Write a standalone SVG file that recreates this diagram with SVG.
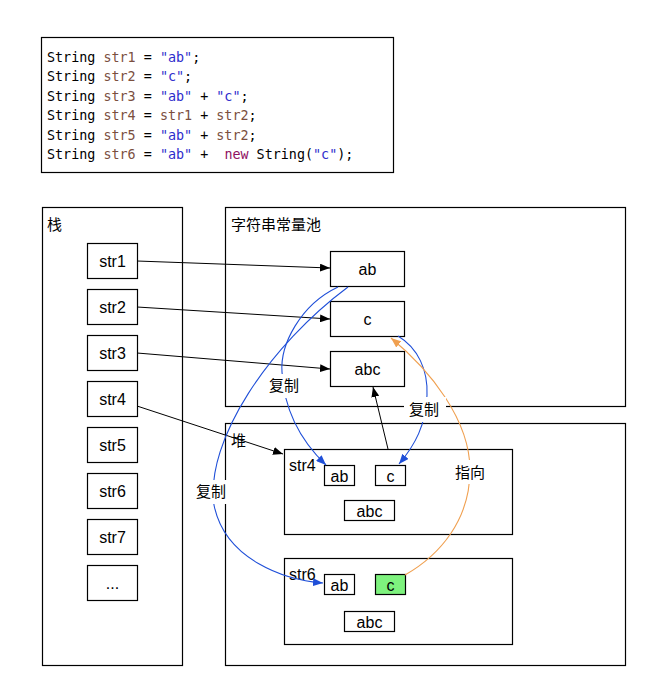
<svg xmlns="http://www.w3.org/2000/svg" width="657" height="692" viewBox="0 0 657 692">
<style>
.box{fill:#fff;stroke:#000;stroke-width:1.2}
.t{font-family:"Liberation Sans","Noto Sans CJK SC",sans-serif;font-size:16px;fill:#000}
.h{font-family:"Noto Sans CJK SC","Liberation Sans",sans-serif;font-size:15px;fill:#000}
.c{text-anchor:middle}
.code{font-family:"DejaVu Sans Mono","Liberation Mono",monospace;font-size:13.4px;fill:#000}
.v{fill:#7b4f3f}
.s{fill:#2d2dcc}
.k{fill:#8f1263}
.blk{fill:none;stroke:#000;stroke-width:1}
.blu{fill:none;stroke:#1f4fd8;stroke-width:1.1}
.org{fill:none;stroke:#f0a050;stroke-width:1.1}
.lbl{font-family:"Noto Sans CJK SC","Liberation Sans",sans-serif;font-size:15px;fill:#000;text-anchor:middle}
</style>
<defs>
<marker id="ak" viewBox="0 0 10 8" refX="10" refY="4" markerWidth="10" markerHeight="8" markerUnits="userSpaceOnUse" orient="auto"><path d="M0,0 L10,4 L0,8 Z" fill="#000"/></marker>
<marker id="ab" viewBox="0 0 10 8" refX="10" refY="4" markerWidth="10" markerHeight="8" markerUnits="userSpaceOnUse" orient="auto"><path d="M0,0 L10,4 L0,8 Z" fill="#1f4fd8"/></marker>
<marker id="ao" viewBox="0 0 10 8" refX="10" refY="4" markerWidth="10" markerHeight="8" markerUnits="userSpaceOnUse" orient="auto"><path d="M0,0 L10,4 L0,8 Z" fill="#f0a050"/></marker>
</defs>
<rect width="657" height="692" fill="#fff"/>

<g id="code">
<rect class="box" x="41.5" y="37.5" width="352" height="135"/>
<text class="code" x="47" y="62" xml:space="preserve">String <tspan class="v">str1</tspan> = <tspan class="s">"ab"</tspan>;</text>
<text class="code" x="47" y="81.4" xml:space="preserve">String <tspan class="v">str2</tspan> = <tspan class="s">"c"</tspan>;</text>
<text class="code" x="47" y="100.8" xml:space="preserve">String <tspan class="v">str3</tspan> = <tspan class="s">"ab"</tspan> + <tspan class="s">"c"</tspan>;</text>
<text class="code" x="47" y="120.2" xml:space="preserve">String <tspan class="v">str4</tspan> = <tspan class="v">str1</tspan> + <tspan class="v">str2</tspan>;</text>
<text class="code" x="47" y="139.6" xml:space="preserve">String <tspan class="v">str5</tspan> = <tspan class="s">"ab"</tspan> + <tspan class="v">str2</tspan>;</text>
<text class="code" x="47" y="159" xml:space="preserve">String <tspan class="v">str6</tspan> = <tspan class="s">"ab"</tspan> +  <tspan class="k">new</tspan> String(<tspan class="s">"c"</tspan>);</text>
</g>

<g id="stack">
<rect class="box" x="42.5" y="207.5" width="140" height="458"/>
<text class="h" x="47" y="230">栈</text>
</g>
<g id="pool">
<rect class="box" x="225.5" y="207.5" width="400" height="199"/>
<text class="h" x="231" y="230">字符串常量池</text>
</g>
<g id="heap">
<rect class="box" x="225.5" y="423.5" width="400" height="242"/>
<text class="h" x="231" y="446">堆</text>
</g>

<g id="s1"><rect class="box" x="87.5" y="243.5" width="50" height="35"/><text class="t c" x="112.5" y="267">str1</text></g>
<g id="s2"><rect class="box" x="87.5" y="289.5" width="50" height="35"/><text class="t c" x="112.5" y="313">str2</text></g>
<g id="s3"><rect class="box" x="87.5" y="335.5" width="50" height="35"/><text class="t c" x="112.5" y="359">str3</text></g>
<g id="s4"><rect class="box" x="87.5" y="381.5" width="50" height="35"/><text class="t c" x="112.5" y="405">str4</text></g>
<g id="s5"><rect class="box" x="87.5" y="427.5" width="50" height="35"/><text class="t c" x="112.5" y="451">str5</text></g>
<g id="s6"><rect class="box" x="87.5" y="473.5" width="50" height="35"/><text class="t c" x="112.5" y="497">str6</text></g>
<g id="s7"><rect class="box" x="87.5" y="519.5" width="50" height="35"/><text class="t c" x="112.5" y="543">str7</text></g>
<g id="s8"><rect class="box" x="87.5" y="565.5" width="50" height="35"/><text class="t c" x="112.5" y="589">...</text></g>

<g id="pab"><rect class="box" x="330.5" y="251.5" width="74" height="35"/><text class="t c" x="367.5" y="275">ab</text></g>
<g id="pc"><rect class="box" x="330.5" y="301.5" width="74" height="35"/><text class="t c" x="367.5" y="325">c</text></g>
<g id="pabc"><rect class="box" x="330.5" y="351.5" width="74" height="35"/><text class="t c" x="367.5" y="375">abc</text></g>

<g id="h4">
<rect class="box" x="284.5" y="449.5" width="228" height="85"/>
<text class="t" x="289" y="471">str4</text>
<rect class="box" x="324.5" y="465.5" width="30" height="20"/><text class="t c" x="339.5" y="481.5">ab</text>
<rect class="box" x="375.5" y="465.5" width="30" height="20"/><text class="t c" x="390.5" y="481.5">c</text>
<rect class="box" x="344.5" y="500.5" width="50" height="20"/><text class="t c" x="369.5" y="516.5">abc</text>
</g>
<g id="h6">
<rect class="box" x="284.5" y="558.5" width="228" height="86"/>
<text class="t" x="289" y="580">str6</text>
<rect class="box" x="324.5" y="574.5" width="30" height="20"/><text class="t c" x="339.5" y="590.5">ab</text>
<rect x="375.5" y="574.5" width="30" height="20" fill="#7ef27e" stroke="#000" stroke-width="1.2"/><text class="t c" x="390.5" y="590.5">c</text>
<rect class="box" x="344.5" y="611.5" width="50" height="20"/><text class="t c" x="369.5" y="627.5">abc</text>
</g>

<g id="connectors">
<path class="blk" d="M137,261 L330,268" marker-end="url(#ak)"/>
<path class="blk" d="M137,307 L330,319" marker-end="url(#ak)"/>
<path class="blk" d="M137,353 L330,369" marker-end="url(#ak)"/>
<path class="blk" d="M137,406 L283,454" marker-end="url(#ak)"/>
<path class="blk" d="M388,449 L373,387" marker-end="url(#ak)"/>
<path class="blu" d="M338,287 C300,305 280,345 282,372 C284,410 300,440 326,465" marker-end="url(#ab)"/>
<path class="blu" d="M348,287 C270,345 205,440 214,505 C225,560 285,580 323,583" marker-end="url(#ab)"/>
<path class="blu" d="M398,336 C418,348 428,370 427,395 C426,425 415,445 399,464" marker-end="url(#ab)"/>
<path class="org" d="M405,575 C440,555 470,520 470,470 C470,420 430,370 391,338" marker-end="url(#ao)"/>
</g>

<g id="labels">
<rect x="264" y="374" width="40" height="24" fill="#fff"/>
<text class="lbl" x="284" y="391">复制</text>
<rect x="404" y="397" width="42" height="25" fill="#fff"/>
<text class="lbl" x="424" y="415">复制</text>
<rect x="191" y="480" width="40" height="24" fill="#fff"/>
<text class="lbl" x="211" y="497">复制</text>
<rect x="450" y="460" width="40" height="24" fill="#fff"/>
<text class="lbl" x="470" y="478">指向</text>
</g>
</svg>
